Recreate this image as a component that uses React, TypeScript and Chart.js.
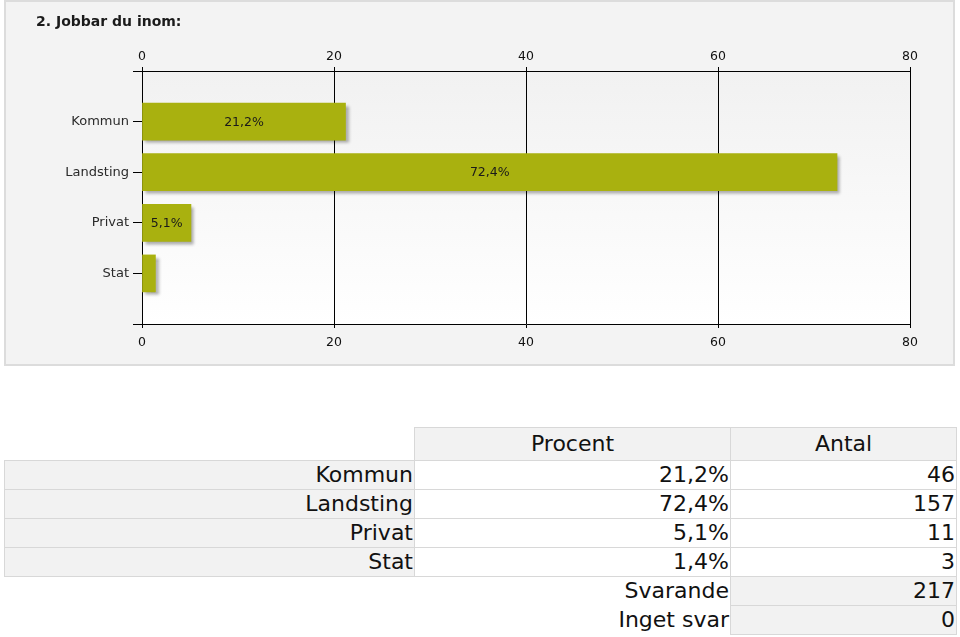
import React, { useEffect, useRef } from 'react';
import { Chart, registerables } from 'chart.js';

Chart.register(...registerables);

const title = '2. Jobbar du inom:';
const categories = ['Kommun', 'Landsting', 'Privat', 'Stat'];
const percentages = [21.2, 72.4, 5.1, 1.4];
const counts = [46, 157, 11, 3];
const axisMin = 0;
const axisMax = 80;
const axisStep = 20;
const headerLabels = ['Procent', 'Antal'];
const summaryLabels = ['Svarande', 'Inget svar'];
const summaryValues = [217, 0];

const FONT = '"DejaVu Sans", Verdana, sans-serif';
const BAR_COLOR = '#a9b10f';

const fmtPct = (v: number) => `${v.toFixed(1).replace('.', ',')}%`;

type CellProps = {
  left: number;
  top: number;
  width: number;
  height: number;
  text: string;
  align: 'left' | 'right' | 'center';
  bg?: string;
  border?: boolean;
};

function Cell({ left, top, width, height, text, align, bg, border }: CellProps) {
  return (
    <div
      style={{
        position: 'absolute',
        left,
        top,
        width,
        height,
        boxSizing: 'border-box',
        background: bg || 'transparent',
        border: border ? '1px solid #d8d8d8' : '1px solid transparent',
        textAlign: align,
        fontFamily: FONT,
        fontSize: 22,
        lineHeight: `${height - 2}px`,
        color: '#111',
        paddingRight: align === 'right' ? 1 : 0,
        whiteSpace: 'nowrap',
        overflow: 'hidden',
      }}
    >
      {text}
    </div>
  );
}

export default function App() {
  const ref = useRef<HTMLCanvasElement>(null);

  useEffect(() => {
    if (!ref.current) return;
    const labels = ['', ...categories, ''];
    const data: (number | null)[] = [null, ...percentages, null];

    const plotBg = {
      id: 'plotBg',
      beforeDraw(chart: any) {
        const { ctx, chartArea: a } = chart;
        const g = ctx.createLinearGradient(0, a.top, 0, a.bottom);
        g.addColorStop(0, '#f1f1f1');
        g.addColorStop(1, '#ffffff');
        ctx.save();
        ctx.fillStyle = g;
        ctx.fillRect(a.left, a.top, a.right - a.left, a.bottom - a.top);
        ctx.restore();
      },
    };

    const barDecor = {
      id: 'barDecor',
      beforeDatasetsDraw(chart: any) {
        const ctx = chart.ctx;
        ctx.save();
        ctx.shadowColor = 'rgba(0,0,0,0.32)';
        ctx.shadowBlur = 3;
        ctx.shadowOffsetX = 3;
        ctx.shadowOffsetY = 3;
      },
      afterDatasetsDraw(chart: any) {
        const ctx = chart.ctx;
        ctx.restore();
        const meta = chart.getDatasetMeta(0);
        ctx.save();
        ctx.font = `12.5px ${FONT}`;
        ctx.fillStyle = '#1a1a1a';
        ctx.textAlign = 'center';
        ctx.textBaseline = 'middle';
        meta.data.forEach((bar: any, i: number) => {
          const v = data[i];
          if (v == null) return;
          const { x, y, base } = bar.getProps(['x', 'y', 'base'], true);
          const text = fmtPct(v);
          const w = ctx.measureText(text).width;
          if (Math.abs(x - base) < w + 8) return;
          ctx.fillText(text, (x + base) / 2, y + 1);
        });
        ctx.restore();
      },
    };

    const xTicks = (padding: number) => ({
      stepSize: axisStep,
      color: '#111',
      font: { family: FONT, size: 12.5 },
      padding,
    });

    const chart = new Chart(ref.current, {
      type: 'bar',
      data: {
        labels,
        datasets: [
          {
            data,
            backgroundColor: BAR_COLOR,
            barThickness: 37,
            xAxisID: 'x',
            yAxisID: 'y',
          },
        ],
      },
      options: {
        indexAxis: 'y',
        animation: false,
        responsive: false,
        devicePixelRatio: 1,
        layout: { padding: { left: 0, right: 50, top: 0, bottom: 0 } },
        plugins: {
          legend: { display: false },
          tooltip: { enabled: false },
          title: { display: false },
        },
        scales: {
          x: {
            type: 'linear',
            min: axisMin,
            max: axisMax,
            position: 'bottom',
            ticks: xTicks(7),
            border: { color: '#000', width: 1 },
            grid: { color: '#000', lineWidth: 1, tickLength: 4, drawOnChartArea: true },
            afterFit(s: any) {
              s.height = 41;
            },
          },
          x2: {
            type: 'linear',
            axis: 'x',
            min: axisMin,
            max: axisMax,
            position: 'top',
            ticks: xTicks(3),
            border: { color: '#000', width: 1 },
            grid: { color: '#000', lineWidth: 1, tickLength: 4, drawOnChartArea: false },
            afterFit(s: any) {
              s.height = 71;
            },
          },
          y: {
            type: 'category',
            offset: false,
            ticks: {
              autoSkip: false,
              color: '#2a2a2a',
              font: { family: FONT, size: 13 },
              padding: 4,
            },
            grid: { color: '#000', lineWidth: 1, tickLength: 9, drawOnChartArea: false, offset: false },
            border: { color: '#000', width: 1 },
            afterFit(s: any) {
              s.width = 142;
            },
          },
        } as any,
      },
      plugins: [plotBg, barDecor],
    });

    return () => chart.destroy();
  }, []);

  const col = [
    { left: 4, width: 411 },
    { left: 414, width: 317 },
    { left: 730, width: 227 },
  ];
  const headerTop = 427;
  const headerH = 34;
  const rowH = 29;
  const rowTop = (i: number) => headerTop + headerH - 1 + i * rowH;

  const cells: CellProps[] = [];
  headerLabels.forEach((h, j) => {
    cells.push({ left: col[j + 1].left, top: headerTop, width: col[j + 1].width, height: headerH, text: h, align: 'center', bg: '#f2f2f2', border: true });
  });
  categories.forEach((c, i) => {
    cells.push({ left: col[0].left, top: rowTop(i), width: col[0].width, height: rowH + 1, text: c, align: 'right', bg: '#f2f2f2', border: true });
    cells.push({ left: col[1].left, top: rowTop(i), width: col[1].width, height: rowH + 1, text: fmtPct(percentages[i]), align: 'right', bg: '#ffffff', border: true });
    cells.push({ left: col[2].left, top: rowTop(i), width: col[2].width, height: rowH + 1, text: String(counts[i]), align: 'right', bg: '#ffffff', border: true });
  });
  summaryLabels.forEach((s, k) => {
    const i = categories.length + k;
    cells.push({ left: col[1].left, top: rowTop(i), width: col[1].width, height: rowH + 1, text: s, align: 'right' });
    cells.push({ left: col[2].left, top: rowTop(i), width: col[2].width, height: rowH + 1, text: String(summaryValues[k]), align: 'right', bg: '#f2f2f2', border: true });
  });

  return (
    <div style={{ position: 'absolute', left: 0, top: 0, width: 960, height: 637, background: '#fff', overflow: 'hidden' }}>
      <div
        style={{
          position: 'absolute',
          left: 4,
          top: 0,
          width: 951,
          height: 366,
          boxSizing: 'border-box',
          background: '#f3f3f3',
          border: '2px solid #dcdcdc',
        }}
      />
      <canvas ref={ref} width={960} height={365} style={{ position: 'absolute', left: 0, top: 0, width: 960, height: 365 }} />
      <div
        style={{
          position: 'absolute',
          left: 36,
          top: 13,
          fontFamily: FONT,
          fontWeight: 'bold',
          fontSize: 14,
          lineHeight: '16px',
          color: '#1a1a1a',
          whiteSpace: 'nowrap',
        }}
      >
        {title}
      </div>
      {cells.map((c, idx) => (
        <Cell key={idx} {...c} />
      ))}
    </div>
  );
}
